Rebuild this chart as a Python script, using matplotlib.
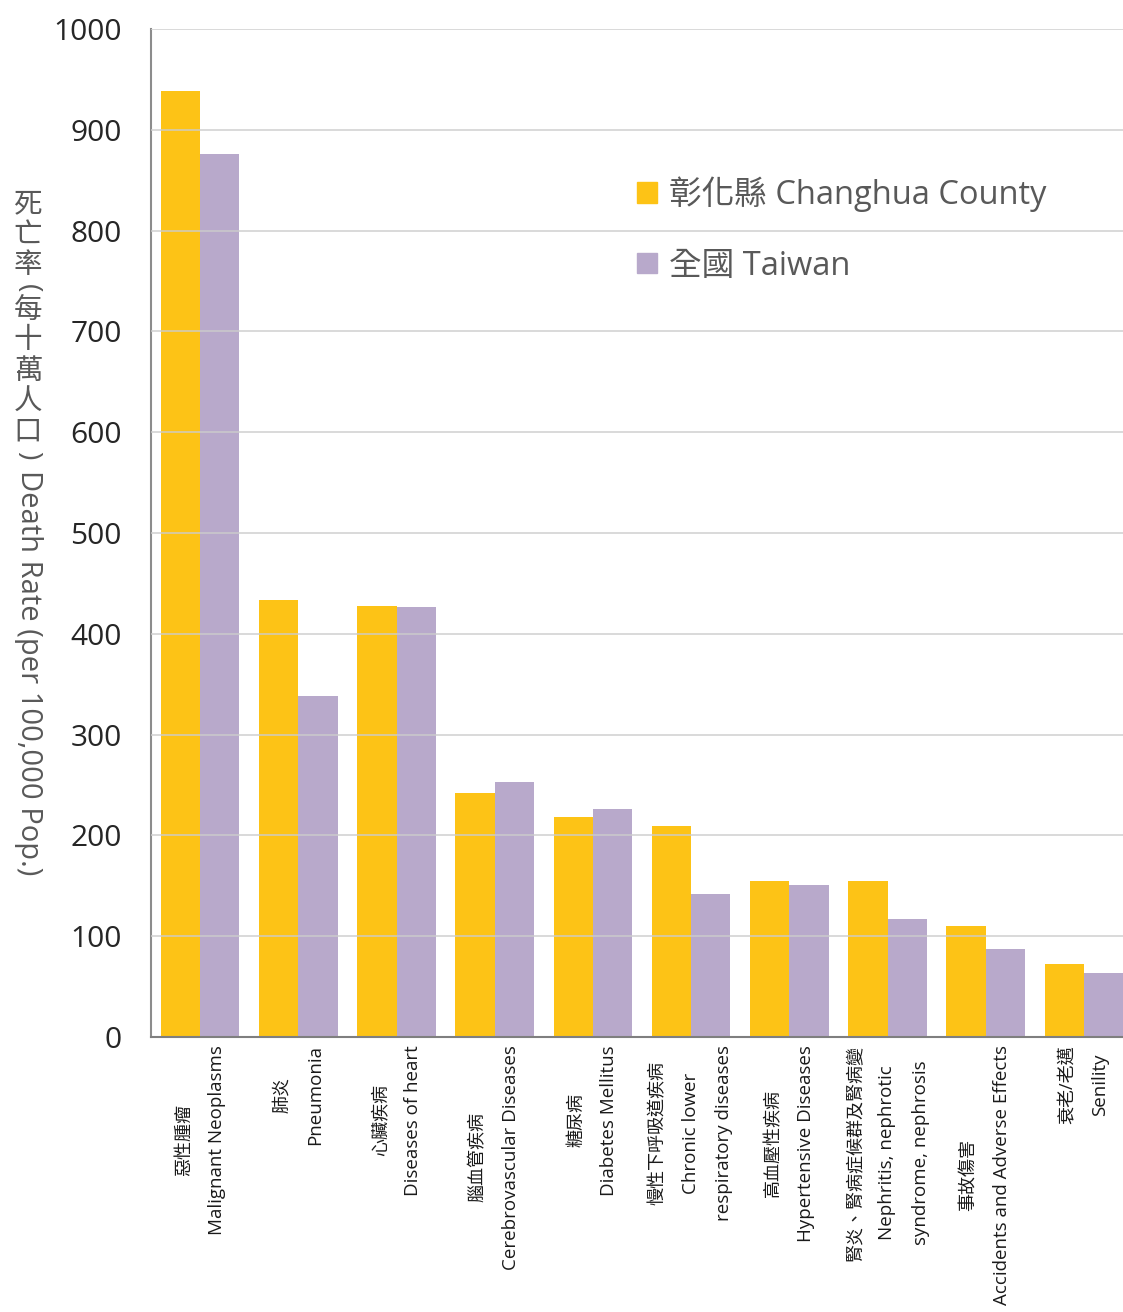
import matplotlib
matplotlib.use('Agg')
import matplotlib.pyplot as plt
import matplotlib.transforms as mtransforms
from matplotlib.patches import Patch
import numpy as np

plt.rcParams['font.family'] = ['Open Sans', 'Noto Sans CJK TC', 'DejaVu Sans']

# causes of death (Chinese / English lines)
labels_zh = ['惡性腫瘤', '肺炎', '心臟疾病', '腦血管疾病', '糖尿病',
             '慢性下呼吸道疾病', '高血壓性疾病', '腎炎、腎病症候群及腎病變',
             '事故傷害', '衰老/老邁']
labels_en = [['Malignant Neoplasms'], ['Pneumonia'], ['Diseases of heart'],
             ['Cerebrovascular Diseases'], ['Diabetes Mellitus'],
             ['Chronic lower', 'respiratory diseases'], ['Hypertensive Diseases'],
             ['Nephritis, nephrotic', 'syndrome, nephrosis'],
             ['Accidents and Adverse Effects'], ['Senility']]

changhua = [938.5, 433.5, 427.9, 242.4, 218.6, 209.3, 155.1, 155.1, 110.1, 72.4]
taiwan = [875.7, 338.6, 426.9, 253.0, 225.9, 141.6, 151.1, 116.8, 87.3, 63.5]

series_names = ['彰化縣 Changhua County', '全國 Taiwan']
ylabel_zh = '死亡率(每十萬人口)'
ylabel_en = 'Death Rate (per 100,000 Pop.)'
yellow = '#FDC316'
purple = '#B8A9CB'

W, H = 1123, 1312
fig = plt.figure(figsize=(W / 100, H / 100), dpi=100)
ax = fig.add_axes([151 / W, 275 / H, 982 / W, 1008 / H])

x = np.arange(len(changhua))
w = 0.4
ax.bar(x - w / 2, changhua, width=w, color=yellow, zorder=2)
ax.bar(x + w / 2, taiwan, width=w, color=purple, zorder=2)

ax.set_xlim(-0.5, len(changhua) - 0.5)
ax.set_ylim(0, 1000)
ax.set_yticks(np.arange(0, 1001, 100))
ax.yaxis.grid(True, color='#cccccc', linewidth=1.3, zorder=3, alpha=0.8)
ax.set_axisbelow(False)
ax.tick_params(axis='y', length=0, pad=21, labelsize=21.5, labelcolor='#262626')
ax.tick_params(axis='x', length=0, labelbottom=False)
for s in ['top', 'right']:
    ax.spines[s].set_visible(False)
ax.spines['left'].set_color('#8c8c8c')
ax.spines['left'].set_linewidth(1.5)
ax.spines['bottom'].set_color('#7f7f7f')
ax.spines['bottom'].set_linewidth(1.5)
ax.spines['bottom'].set_zorder(4)

# y label: Chinese stacked upright, brackets and English turned
ylab_fs = 20.5
ylab_x = 28 / W
ypix = 190.0
for ch in ylabel_zh:
    if ch in '()':
        adv = 14
        fig.text(ylab_x, 1 - (ypix + adv / 2) / H, ch, rotation=270,
                 ha='center', va='center', fontsize=ylab_fs, color='#595959')
    else:
        adv = 30.5
        fig.text(ylab_x, 1 - (ypix + adv / 2) / H, ch,
                 ha='center', va='center', fontsize=ylab_fs, color='#595959')
    ypix += adv
fig.text(ylab_x, 1 - (ypix + 8) / H, ylabel_en, rotation=270,
         ha='center', va='top', fontsize=21, color='#595959')

# category labels, rotated, lines centred on each other
trans = mtransforms.blended_transform_factory(ax.transData, ax.transAxes)
line_gap = 33
groups = []
for i in range(len(x)):
    lines = [(labels_zh[i], 13)] + [(t, 13.5) for t in labels_en[i]]
    n = len(lines)
    texts = []
    for j, (t, fs) in enumerate(lines):
        dx = (j - (n - 1) / 2) * line_gap
        tr = trans + mtransforms.ScaledTranslation(dx / 100, 0, fig.dpi_scale_trans)
        txt = ax.text(x[i], 0, t, rotation=90, ha='center', va='center',
                      fontsize=fs, color='#1a1a1a', transform=tr, clip_on=False)
        texts.append(txt)
    groups.append(texts)

fig.canvas.draw()
r = fig.canvas.get_renderer()
ax_h = ax.get_window_extent(r).height
for texts in groups:
    longest = max(t.get_window_extent(r).height for t in texts)
    yc = -(8 + longest / 2) / ax_h
    for t in texts:
        t.set_y(yc)

handles = [Patch(color=yellow), Patch(color=purple)]
leg = ax.legend(handles, series_names, loc='upper left',
                bbox_to_anchor=(473 / 982, 1 - 134 / 1008), frameon=False,
                fontsize=23.5, handlelength=0.6, handleheight=0.6,
                handletextpad=0.37, labelspacing=1.16, borderaxespad=0)
for t in leg.get_texts():
    t.set_color('#595959')

fig.savefig('out.png', dpi=100)
